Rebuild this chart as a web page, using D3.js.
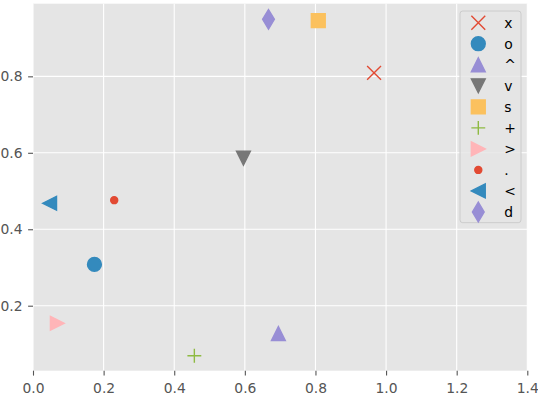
<!DOCTYPE html>
<html>
<head>
<meta charset="utf-8">
<script src="https://cdn.jsdelivr.net/npm/d3@7"></script>
<style>
  html, body { margin: 0; padding: 0; background: #ffffff; }
  svg { display: block; font-family: "DejaVu Sans", sans-serif; }
</style>
</head>
<body>
<svg id="chart" width="538" height="396"></svg>
<script>
// ---- data ----
const markerNames = ["x", "o", "^", "v", "s", "+", ">", ".", "<", "d"];
const xValues = [0.966, 0.174, 0.695, 0.596, 0.808, 0.457, 0.069, 0.230, 0.047, 0.667];
const yValues = [0.809, 0.308, 0.127, 0.586, 0.946, 0.069, 0.154, 0.476, 0.468, 0.949];
const xTicks = [0.0, 0.2, 0.4, 0.6, 0.8, 1.0, 1.2, 1.4];
const yTicks = [0.2, 0.4, 0.6, 0.8];
const xLimits = [0, 1.4];
const yLimits = [0.03, 0.99];

// ---- style ----
const palette = ["#E24A33", "#348ABD", "#988ED5", "#777777", "#FBC15E", "#8EBA42", "#FFB5B8"];
const ms = 13.89;       // marker size (10pt at 100dpi)
const mew = 1.39;       // marker edge width

const svg = d3.select("#chart");
const plot = { left: 33, right: 527.3, top: 3.7, bottom: 370.7 };

const x = d3.scaleLinear().domain(xLimits).range([plot.left, plot.right]);
const y = d3.scaleLinear().domain(yLimits).range([plot.bottom, plot.top]);

// axes background
svg.append("rect")
  .attr("x", plot.left).attr("y", plot.top)
  .attr("width", plot.right - plot.left).attr("height", plot.bottom - plot.top)
  .attr("fill", "#E5E5E5");

// grid
const grid = svg.append("g").attr("stroke", "#ffffff").attr("stroke-width", 1.1);
grid.selectAll("line.gx").data(xTicks).join("line")
  .attr("x1", d => x(d)).attr("x2", d => x(d))
  .attr("y1", plot.top).attr("y2", plot.bottom);
grid.selectAll("line.gy").data(yTicks).join("line")
  .attr("y1", d => y(d)).attr("y2", d => y(d))
  .attr("x1", plot.left).attr("x2", plot.right);

// axes
const fmt = d3.format(".1f");
const xAxis = svg.append("g")
  .attr("transform", `translate(0,${plot.bottom})`)
  .call(d3.axisBottom(x).tickValues(xTicks).tickFormat(fmt).tickSize(4.9).tickPadding(7.5));
const yAxis = svg.append("g")
  .attr("transform", `translate(${plot.left},0)`)
  .call(d3.axisLeft(y).tickValues(yTicks).tickFormat(fmt).tickSize(4.9).tickPadding(5.6));
[xAxis, yAxis].forEach(a => {
  a.select(".domain").remove();
  a.selectAll(".tick line").attr("stroke", "#555555").attr("stroke-width", 1.1);
  a.selectAll(".tick text")
    .attr("fill", "#555555")
    .attr("font-size", "13.89px")
    .attr("font-family", "DejaVu Sans, sans-serif");
});

// marker shapes
function markerPath(m) {
  const h = ms / 2;
  switch (m) {
    case "x": return `M${-h},${-h}L${h},${h}M${-h},${h}L${h},${-h}`;
    case "+": return `M${-h},0L${h},0M0,${-h}L0,${h}`;
    case "o": return d3.arc()({innerRadius: 0, outerRadius: h, startAngle: 0, endAngle: 2 * Math.PI});
    case ".": return d3.arc()({innerRadius: 0, outerRadius: h * 0.5, startAngle: 0, endAngle: 2 * Math.PI});
    case "^": return `M0,${-h}L${-h},${h}L${h},${h}Z`;
    case "v": return `M0,${h}L${-h},${-h}L${h},${-h}Z`;
    case ">": return `M${h},0L${-h},${-h}L${-h},${h}Z`;
    case "<": return `M${-h},0L${h},${-h}L${h},${h}Z`;
    case "s": return `M${-h},${-h}L${h},${-h}L${h},${h}L${-h},${h}Z`;
    case "d": {
      const dy = ms * Math.SQRT1_2, dx = 0.6 * dy;
      return `M0,${-dy}L${dx},0L0,${dy}L${-dx},0Z`;
    }
  }
}
const lineOnly = m => m === "x" || m === "+";

const points = markerNames.map((m, i) => ({ m, x: xValues[i], y: yValues[i], c: palette[i % palette.length] }));

svg.append("g").selectAll("path").data(points).join("path")
  .attr("transform", d => `translate(${x(d.x)},${y(d.y)})`)
  .attr("d", d => markerPath(d.m))
  .attr("fill", d => lineOnly(d.m) ? "none" : d.c)
  .attr("stroke", d => d.c)
  .attr("stroke-width", mew)
  .attr("stroke-linejoin", "miter");

// legend
const leg = { x: 460, y: 11, w: 61, h: 211.7, row0: 22.7, step: 21.03, mx: 478.3, tx: 504.3 };
const lg = svg.append("g");
lg.append("rect")
  .attr("x", leg.x).attr("y", leg.y).attr("width", leg.w).attr("height", leg.h)
  .attr("rx", 2.8).attr("ry", 2.8)
  .attr("fill", "#E5E5E5").attr("fill-opacity", 0.8)
  .attr("stroke", "#CCCCCC").attr("stroke-width", 1);
const rows = lg.selectAll("g.row").data(points).join("g")
  .attr("transform", (d, i) => `translate(0,${leg.row0 + i * leg.step})`);
rows.append("path")
  .attr("transform", `translate(${leg.mx},0)`)
  .attr("d", d => markerPath(d.m))
  .attr("fill", d => lineOnly(d.m) ? "none" : d.c)
  .attr("stroke", d => d.c)
  .attr("stroke-width", mew);
rows.append("text")
  .attr("x", leg.tx).attr("y", 0).attr("dy", "0.36em")
  .attr("font-size", "13.89px")
  .attr("fill", "#000000")
  .text(d => d.m);
</script>
</body>
</html>
